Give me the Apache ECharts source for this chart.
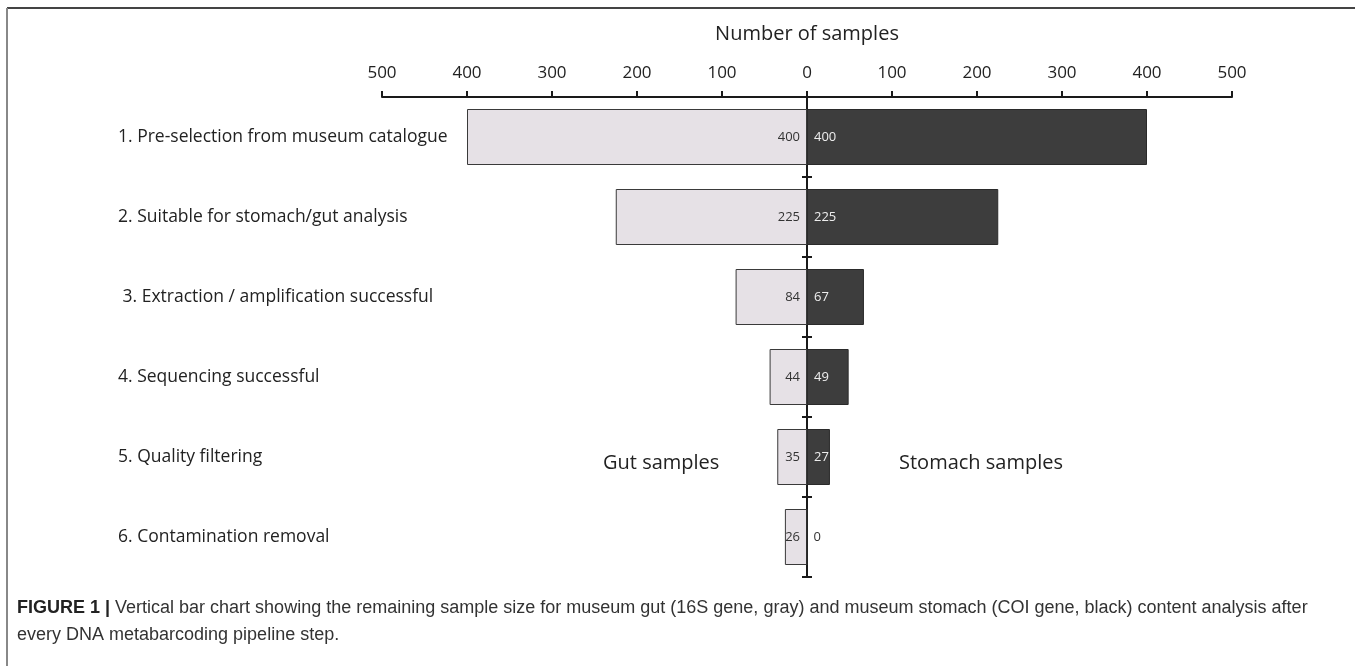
<!DOCTYPE html>
<html>
<head>
<meta charset="utf-8">
<script src="https://cdn.jsdelivr.net/npm/echarts@6/dist/echarts.min.js"></script>
<style>
html,body{margin:0;padding:0;background:#fff;}
#chart{width:1355px;height:666px;}
</style>
</head>
<body>
<div id="chart"></div>
<script>
const categories = [
  '1. Pre-selection from museum catalogue',
  '2. Suitable for stomach/gut analysis',
  ' 3. Extraction / amplification successful',
  '4. Sequencing successful',
  '5. Quality filtering',
  '6. Contamination removal'
];
const gutSamples = [400, 225, 84, 44, 35, 26];
const stomachSamples = [400, 225, 67, 49, 27, 0];
const xTickValues = [-500, -400, -300, -200, -100, 0, 100, 200, 300, 400, 500];
const axisTitle = 'Number of samples';
const gutLabel = 'Gut samples';
const stomachLabel = 'Stomach samples';
const captionBold = 'FIGURE 1 |';
const captionLine1 = ' Vertical bar chart showing the remaining sample size for museum gut (16S gene, gray) and museum stomach (COI gene, black) content analysis after';
const captionLine2 = 'every DNA metabarcoding pipeline step.';

const FONT = '"Open Sans", Lato, sans-serif';
const CAP_FONT = '"Liberation Sans", Arial, sans-serif';
const chart = echarts.init(document.getElementById('chart'), null, {renderer: 'canvas'});

const gridBox = {left: 382, right: 123, top: 97, bottom: 89};
const xMin = xTickValues[0];
const xMax = xTickValues[xTickValues.length - 1];

chart.setOption({
  animation: false,
  backgroundColor: '#fff',
  grid: [Object.assign({}, gridBox), Object.assign({}, gridBox)],
  xAxis: [
    {
      type: 'value',
      gridIndex: 0,
      position: 'top',
      min: xMin,
      max: xMax,
      interval: 100,
      name: axisTitle,
      nameLocation: 'middle',
      nameGap: 53,
      nameTextStyle: {fontFamily: FONT, fontSize: 20, color: '#222'},
      axisLine: {show: true, onZero: false, lineStyle: {color: '#1a1a1a', width: 2}},
      axisTick: {show: true, length: 6, lineStyle: {color: '#1a1a1a', width: 2}},
      splitLine: {show: false},
      axisLabel: {
        margin: 15,
        fontFamily: FONT,
        fontSize: 17,
        color: '#222',
        formatter: v => String(Math.abs(v))
      }
    },
    {
      type: 'value',
      gridIndex: 1,
      min: xMin,
      max: xMax,
      interval: 100,
      axisLine: {show: false, onZero: false},
      axisTick: {show: false},
      axisLabel: {show: false},
      splitLine: {show: false}
    }
  ],
  yAxis: [
    {
      type: 'category',
      data: categories,
      inverse: true,
      gridIndex: 0,
      position: 'left',
      axisLine: {show: false, onZero: false},
      axisTick: {show: false},
      axisLabel: {
        align: 'left',
        margin: 264,
        fontFamily: FONT,
        fontSize: 17.5,
        color: '#222'
      }
    },
    {
      type: 'category',
      data: categories,
      inverse: true,
      gridIndex: 0,
      position: 'left',
      axisLine: {show: true, onZero: true, lineStyle: {color: '#1a1a1a', width: 2}},
      axisTick: {show: true, length: 5, inside: false, lineStyle: {color: '#1a1a1a', width: 2}},
      axisLabel: {show: false}
    },
    {
      type: 'category',
      data: categories,
      inverse: true,
      gridIndex: 1,
      position: 'left',
      axisLine: {show: true, onZero: true, lineStyle: {color: '#1a1a1a', width: 2}},
      axisTick: {show: true, length: 5, inside: true, lineStyle: {color: '#1a1a1a', width: 2}},
      axisLabel: {show: false}
    }
  ],
  series: [
    {
      name: gutLabel,
      type: 'bar',
      xAxisIndex: 0,
      yAxisIndex: 0,
      barWidth: '70%',
      barGap: '-100%',
      data: gutSamples.map(v => -v),
      itemStyle: {color: '#e6e1e6', borderColor: '#3a3a3a', borderWidth: 1},
      label: {
        show: true,
        position: 'insideRight',
        distance: 7,
        fontFamily: FONT,
        fontSize: 13,
        color: '#333',
        formatter: p => String(Math.abs(p.value))
      },
      z: 1
    },
    {
      name: stomachLabel,
      type: 'bar',
      xAxisIndex: 0,
      yAxisIndex: 0,
      barWidth: '70%',
      barGap: '-100%',
      data: stomachSamples.map(v => v === 0 ? {value: v, label: {color: '#333'}} : v),
      itemStyle: {color: '#3d3d3d', borderColor: '#2a2a2a', borderWidth: 1},
      label: {
        show: true,
        position: 'insideLeft',
        distance: 7,
        fontFamily: FONT,
        fontSize: 13,
        color: '#eee',
        formatter: p => String(Math.abs(p.value))
      },
      z: 1
    }
  ],
  graphic: [
    {type: 'line', shape: {x1: 7, y1: 8, x2: 1355, y2: 8}, style: {stroke: '#444', lineWidth: 2}, silent: true},
    {type: 'line', shape: {x1: 7, y1: 8, x2: 7, y2: 666}, style: {stroke: '#888', lineWidth: 2}, silent: true},
    {type: 'text', left: 603, top: 453, style: {text: gutLabel, font: '20px ' + FONT, fill: '#222'}},
    {type: 'text', left: 899, top: 453, style: {text: stomachLabel, font: '20px ' + FONT, fill: '#222'}},
    {
      type: 'text', left: 17, top: 599,
      style: {
        text: '{b|' + captionBold + '}{n|' + captionLine1 + '}\n{n|' + captionLine2 + '}',
        rich: {
          b: {fontFamily: CAP_FONT, fontWeight: 'bold', fontSize: 18, fill: '#222', lineHeight: 27},
          n: {fontFamily: CAP_FONT, fontSize: 18, fill: '#333', lineHeight: 27}
        }
      }
    }
  ]
});
</script>
</body>
</html>
